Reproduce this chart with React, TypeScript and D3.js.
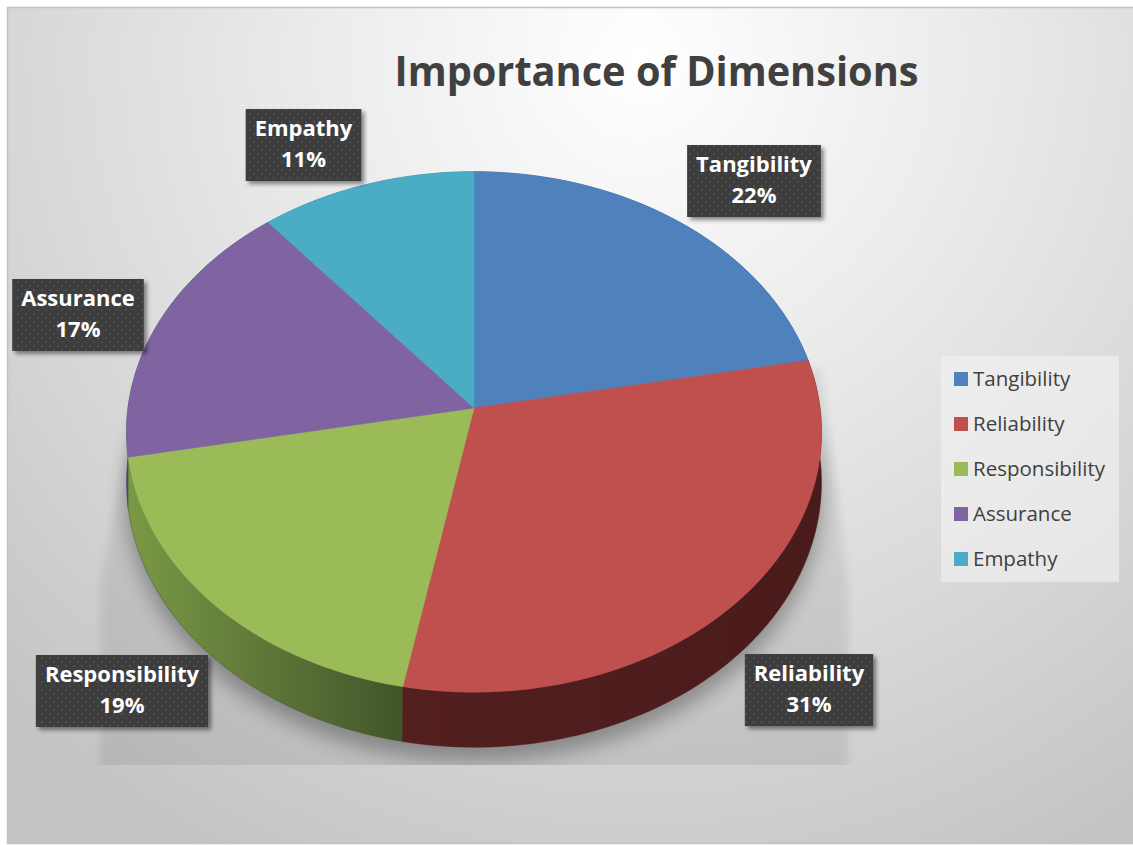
import React from 'react';
import * as d3 from 'd3';

// ---------- data ----------
const categories = ['Tangibility', 'Reliability', 'Responsibility', 'Assurance', 'Empathy'];
const values = [22, 31, 19, 17, 11];
const topColors = ['#4f81bd', '#c0504d', '#9bbb59', '#8064a2', '#4bacc6'];
const sideLight = ['#3b6090', '#531f1f', '#7a9945', '#5f4a7a', '#378aa0'];
const sideDark = ['#2c4a70', '#4a1b1b', '#42552a', '#46365b', '#2a6b7c'];
const chartTitle = 'Importance of Dimensions';

// ---------- layout ----------
const W = 1133;
const H = 845;
const CX = 474;
const CY = 408;
const RX = 346;
const RY = 258;
const K = 0.092; // perspective strength
const DEPTH = 50; // thickness of the pie
// label box centres (data label positions)
const labelCenters: [number, number][] = [
  [754, 181],
  [809, 690],
  [122, 691],
  [78, 315],
  [303.5, 145],
];
const FONT = "'Open Sans', 'Liberation Sans', sans-serif";

function proj(theta: number, r: number, h: number): [number, number] {
  const u = r * Math.sin(theta);
  const v = -r * Math.cos(theta);
  const s = 1 / (1 - K * v);
  return [CX + RX * u * s, CY + RY * v * s + DEPTH * h * s];
}

let measureCtx: CanvasRenderingContext2D | null = null;
function measure(text: string, font: string): number {
  if (!measureCtx) {
    const c = document.createElement('canvas');
    measureCtx = c.getContext('2d');
  }
  if (!measureCtx) return text.length * 11;
  measureCtx.font = font;
  return measureCtx.measureText(text).width;
}

export default function App() {
  const pie = d3.pie<number>().sort(null).value((d) => d)(values);
  const total = d3.sum(values);
  const pct = d3.format('.0%');
  const line = d3.line();

  const rimPts = (a0: number, a1: number, h: number) => {
    const n = Math.max(2, Math.ceil(((a1 - a0) / (2 * Math.PI)) * 240));
    return d3.range(n + 1).map((i) => proj(a0 + ((a1 - a0) * i) / n, 1, h));
  };

  const tops = pie.map((a) => {
    const pts = [proj(0, 0, 0), ...rimPts(a.startAngle, a.endAngle, 0)];
    return line(pts) + 'Z';
  });

  const walls = pie.map((a) => {
    const top = rimPts(a.startAngle, a.endAngle, 0);
    const bot = rimPts(a.startAngle, a.endAngle, 1).reverse();
    const all = [...top, ...bot];
    const xs = all.map((p) => p[0]);
    return {
      d: line(all) + 'Z',
      x0: d3.min(xs) as number,
      x1: d3.max(xs) as number,
      depth: Math.max(...all.map((p) => p[1])),
    };
  });
  const wallOrder = d3.range(walls.length).sort((i, j) => walls[i].depth - walls[j].depth);

  // full bottom outline for shadow
  const bottomOutline = line(rimPts(0, 2 * Math.PI, 1)) + 'Z';
  const leftWide = proj((3 * Math.PI) / 2, 1, 0);
  const rightWide = proj(Math.PI / 2, 1, 0);

  const labelFont = `bold 22px ${FONT}`;

  return (
    <div style={{ position: 'absolute', left: 0, top: 0, width: W, height: H }}>
      <svg width={W} height={H} style={{ display: 'block' }} fontFamily={FONT}>
        <defs>
          <radialGradient id="bg" gradientUnits="userSpaceOnUse" cx={640} cy={60} r={900}>
            <stop offset="0" stopColor="#ffffff" />
            <stop offset="0.35" stopColor="#ececec" />
            <stop offset="0.7" stopColor="#d7d7d7" />
            <stop offset="1" stopColor="#c4c4c4" />
          </radialGradient>
          <filter id="blurBig" x="-30%" y="-30%" width="160%" height="160%">
            <feGaussianBlur stdDeviation="10" />
          </filter>
          <filter id="blurSmall" x="-30%" y="-30%" width="160%" height="160%">
            <feGaussianBlur stdDeviation="4" />
          </filter>
          <clipPath id="shadowClip">
            <rect x={0} y={0} width={W} height={765} />
          </clipPath>
          <filter id="boxShadow" x="-20%" y="-20%" width="150%" height="150%">
            <feDropShadow dx="3" dy="3" stdDeviation="2" floodColor="#000" floodOpacity="0.45" />
          </filter>
          <pattern id="dots" width="8" height="8" patternUnits="userSpaceOnUse">
            <rect width="8" height="8" fill="#3d3d3d" />
            <circle cx="2" cy="2" r="1.1" fill="#555555" />
            <circle cx="6" cy="6" r="1.1" fill="#4b4b4b" />
          </pattern>
          {walls.map((w, i) => (
            <linearGradient
              key={i}
              id={`wall${i}`}
              gradientUnits="userSpaceOnUse"
              x1={w.x0}
              y1={0}
              x2={w.x1}
              y2={0}
            >
              <stop offset="0" stopColor={sideLight[i]} />
              <stop offset="1" stopColor={sideDark[i]} />
            </linearGradient>
          ))}
        </defs>

        {/* chart area */}
        <rect x={7.5} y={7.5} width={W + 10} height={836} fill="url(#bg)" stroke="#c3c3c3" strokeWidth={1.5} />

        {/* shadow under pie */}
        <g clipPath="url(#shadowClip)">
          <path
            d={`M${leftWide[0] + 1},${leftWide[1] + 30} L100,585 L100,780 L848,780 L848,585 L${rightWide[0] + 1},${rightWide[1] - 40} Z`}
            fill="#000"
            opacity={0.07}
            filter="url(#blurSmall)"
          />
          <path d={bottomOutline} transform="translate(0,14)" fill="#000" opacity={0.3} filter="url(#blurBig)" />
        </g>

        {/* pie walls */}
        {wallOrder.map((i) => (
          <path key={`w${i}`} d={walls[i].d} fill={`url(#wall${i})`} stroke={sideDark[i]} strokeWidth={0.5} />
        ))}
        {/* pie tops */}
        {tops.map((d, i) => (
          <path key={`t${i}`} d={d} fill={topColors[i]} stroke={topColors[i]} strokeWidth={0.6} strokeLinejoin="round" />
        ))}

        {/* title */}
        <text
          x={656.5}
          y={86}
          textAnchor="middle"
          fontSize={41}
          fontWeight="bold"
          fill="#404040"
          textLength={524}
          lengthAdjust="spacingAndGlyphs"
        >
          {chartTitle}
        </text>

        {/* data labels */}
        {pie.map((a, i) => {
          const l1 = categories[i];
          const l2 = pct(a.data / total);
          const tw = Math.max(measure(l1, labelFont), measure(l2, labelFont));
          const bw = tw + 18;
          const bh = 72;
          const [lx, ly] = labelCenters[i];
          return (
            <g key={`l${i}`}>
              <rect
                x={lx - bw / 2}
                y={ly - bh / 2}
                width={bw}
                height={bh}
                fill="url(#dots)"
                filter="url(#boxShadow)"
              />
              <text x={lx} y={ly - bh / 2 + 27} textAnchor="middle" fontSize={22} fontWeight="bold" fill="#ffffff">
                {l1}
              </text>
              <text x={lx} y={ly - bh / 2 + 58} textAnchor="middle" fontSize={22} fontWeight="bold" fill="#ffffff">
                {l2}
              </text>
            </g>
          );
        })}

        {/* legend */}
        <rect x={941} y={356} width={178} height={226} fill="#f4f4f4" opacity={0.6} />
        {categories.map((c, i) => (
          <g key={`lg${i}`} transform={`translate(954,${372 + i * 45})`}>
            <rect width={14} height={14} fill={topColors[i]} />
            <text x={19} y={14} fontSize={20.5} fill="#404040">
              {c}
            </text>
          </g>
        ))}
      </svg>
    </div>
  );
}
